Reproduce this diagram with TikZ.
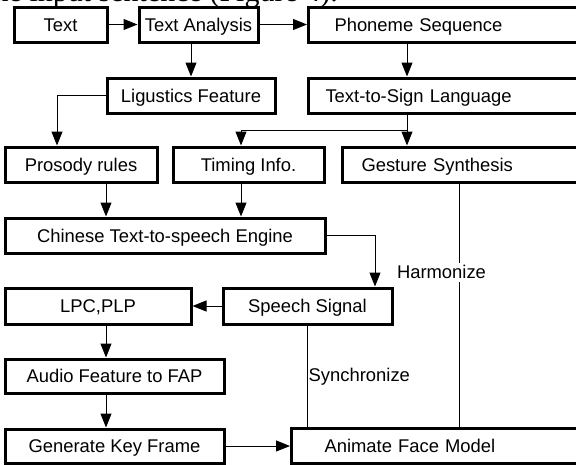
\documentclass[tikz,border=0pt]{standalone}
\usepackage{fontspec}
\setmainfont{Liberation Sans}
\newfontfamily\bodyfont{Liberation Serif}
\usetikzlibrary{arrows.meta}
\begin{document}
\begin{tikzpicture}[x=1pt, y=-1pt,
    font=\fontsize{18.4}{22}\selectfont,
    box/.style={draw, line width=3pt, minimum height=35pt, inner sep=0pt,
      text height=13pt, text depth=0pt},
    openbox/.style={box, anchor=west, text width=300pt, align=left},
    link/.style={line width=1pt, -{Triangle[length=14pt,width=11pt]}},
    plain/.style={line width=1pt}]
  \useasboundingbox (0,0) rectangle (576,464);
  \clip (0,0) rectangle (576,464);

  \node[anchor=base east, inner sep=0pt, font=\bodyfont\fontsize{30}{32}\selectfont] (caption) at (338,1.5) {the input sentence (Figure 4).};

  \node[box, minimum width=93pt] (text) at (60.5,24.5) {Text};
  \node[box, minimum width=119pt] (ana) at (198.5,24.5) {Text Analysis};
  \node[openbox, inner xsep=26pt] (phon) at (307,24.5) {Phoneme Sequence};
  \node[box, minimum width=168pt] (ling) at (191,95.5) {Ligustics Feature};
  \node[openbox, inner xsep=17pt] (sign) at (307,95.5) {Text-to-Sign Language};
  \node[box, minimum width=152pt] (pros) at (81,164.5) {Prosody rules};
  \node[box, minimum width=151pt] (timing) at (248.5,164.5) {Timing Info.};
  \node[openbox, inner xsep=19pt] (gest) at (341,164.5) {Gesture Synthesis};
  \node[box, minimum width=320pt] (ctts) at (165,235.5) {Chinese Text-to-speech Engine};
  \node[box, minimum width=186pt, minimum height=36pt] (lpc) at (98,306) {LPC,PLP};
  \node[box, minimum width=169pt, minimum height=36pt] (speech) at (307.5,306) {Speech Signal};
  \node[box, minimum width=219pt, minimum height=34pt] (afap) at (114.5,376) {Audio Feature to FAP};
  \node[box, minimum width=219pt, minimum height=34pt] (gkf) at (114.5,446) {Generate Key Frame};
  \node[openbox, inner xsep=33pt] (face) at (290,446) {Animate Face Model};

  \coordinate (px) at (57,0);
  \coordinate (lx) at (106,0);
  \coordinate (tx) at (241,0);
  \coordinate (cx) at (375,0);
  \coordinate (sx) at (407,0);
  \coordinate (hx) at (459,0);
  \coordinate (split) at (407,130);

  \draw[link] (text) -- (ana);
  \draw[link] (ana) -- (phon);
  \draw[link] (ling.north |- ana.south) -- (ling.north);
  \draw[link] (sx |- phon.south) -- (sx |- sign.north);
  \draw[link] (ling.west) -| (px |- pros.north);
  \draw[link] (sx |- sign.south) -- (sx |- gest.north);
  \draw[link] (split) -| (tx |- timing.north);
  \draw[link] (lx |- pros.south) -- (lx |- ctts.north);
  \draw[link] (tx |- timing.south) -- (tx |- ctts.north);
  \draw[link] (ctts.east) -| (cx |- speech.north);
  \draw[link] (speech) -- (lpc);
  \draw[link] (lx |- lpc.south) -- (lx |- afap.north);
  \draw[link] (lx |- afap.south) -- (lx |- gkf.north);
  \draw[link] (gkf) -- (face);

  \draw[plain] (speech.south) -- (speech.south |- face.north);
  \node[anchor=west, inner sep=1pt] (sync) at (speech.south |- 0,377) {Synchronize};
  \draw[plain] (hx |- gest.south) -- (hx |- face.north);
  \node[fill=white, inner sep=3pt, text height=13pt, text depth=0pt] (harm) at (441.5,272) {Harmonize};
\end{tikzpicture}
\end{document}
